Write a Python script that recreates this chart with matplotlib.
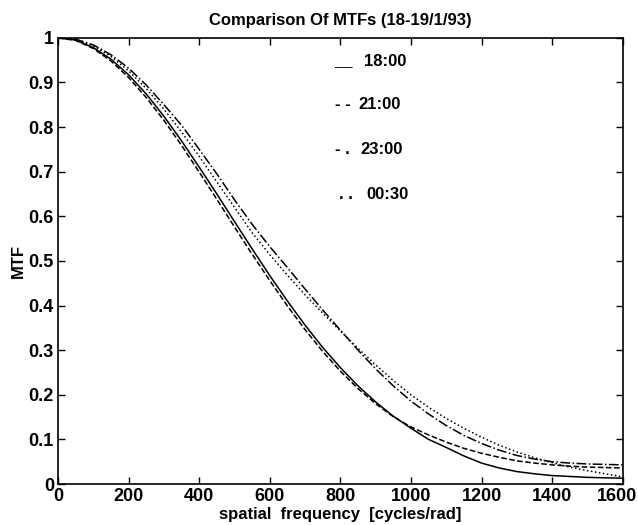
import matplotlib
matplotlib.use("Agg")
import matplotlib.pyplot as plt
from matplotlib.ticker import FixedLocator, FixedFormatter
from matplotlib.transforms import ScaledTranslation

plt.rcParams['font.family'] = ['Liberation Sans', 'DejaVu Sans']

freq = [0, 50, 100, 150, 200, 250, 300, 350, 400, 450, 500, 550, 600, 650, 700, 750, 800,
        850, 900, 950, 1000, 1050, 1100, 1150, 1200, 1250, 1300, 1350, 1400, 1450, 1500, 1550, 1600]

mtf_1800 = [1.000, 0.995, 0.978, 0.952, 0.917, 0.874, 0.824, 0.769, 0.710, 0.650, 0.588, 0.527, 0.467,
            0.410, 0.356, 0.306, 0.261, 0.220, 0.184, 0.152, 0.125, 0.100, 0.082, 0.063, 0.047, 0.036,
            0.028, 0.023, 0.019, 0.017, 0.015, 0.014, 0.013]
mtf_2100 = [1.000, 0.994, 0.976, 0.948, 0.911, 0.866, 0.815, 0.759, 0.699, 0.638, 0.576, 0.515, 0.456,
            0.399, 0.346, 0.297, 0.253, 0.214, 0.180, 0.151, 0.128, 0.110, 0.094, 0.080, 0.069, 0.060,
            0.052, 0.047, 0.043, 0.040, 0.038, 0.037, 0.036]
mtf_2300 = [1.000, 0.997, 0.984, 0.962, 0.932, 0.894, 0.850, 0.804, 0.750, 0.695, 0.637, 0.582, 0.532,
            0.485, 0.437, 0.390, 0.345, 0.300, 0.258, 0.220, 0.186, 0.157, 0.131, 0.109, 0.091, 0.076,
            0.064, 0.056, 0.050, 0.047, 0.045, 0.044, 0.043]
mtf_0030 = [1.000, 0.996, 0.982, 0.958, 0.926, 0.886, 0.840, 0.789, 0.734, 0.677, 0.620, 0.563, 0.514,
            0.468, 0.424, 0.383, 0.343, 0.304, 0.267, 0.232, 0.200, 0.172, 0.147, 0.125, 0.105, 0.087,
            0.072, 0.059, 0.048, 0.038, 0.030, 0.023, 0.016]

series = [("18:00", mtf_1800, '-', "__"),
          ("21:00", mtf_2100, '--', "- -"),
          ("23:00", mtf_2300, '-.', "- ."),
          ("00:30", mtf_0030, ':', ". .")]

xticks = [0, 200, 400, 600, 800, 1000, 1200, 1400, 1600]
xticklabels = ["0", "200", "400", "600", "800", "1000", "1200", "1400", "1600"]
yticks = [0, 0.1, 0.2, 0.3, 0.4, 0.5, 0.6, 0.7, 0.8, 0.9, 1.0]
yticklabels = ["0", "0.1", "0.2", "0.3", "0.4", "0.5", "0.6", "0.7", "0.8", "0.9", "1"]

fig = plt.figure(figsize=(6.38, 5.25), dpi=100)
ax = fig.add_axes([0.091, 0.078, 0.885, 0.85])

for label, vals, ls, sample in series:
    ax.plot(freq, vals, color='black', linestyle=ls, linewidth=1.1)

# MATLAB-style text legend
leg_y = [0.946, 0.85, 0.749, 0.648]
leg_sample_x = [783, 785, 785, 795]
leg_text_x = [866, 850, 858, 875]
for (label, vals, ls, sample), y, sx, tx in zip(series, leg_y, leg_sample_x, leg_text_x):
    ax.text(sx, y, sample, fontsize=12, fontweight='bold', va='center', ha='left')
    ax.text(tx, y, label, fontsize=12, fontweight='bold', va='center', ha='left')

ax.set_xlim(0, 1600)
ax.set_ylim(0, 1)
ax.xaxis.set_major_locator(FixedLocator(xticks))
ax.xaxis.set_major_formatter(FixedFormatter(xticklabels))
ax.yaxis.set_major_locator(FixedLocator(yticks))
ax.yaxis.set_major_formatter(FixedFormatter(yticklabels))
ax.tick_params(direction='in', top=True, right=True, length=5, width=1,
               labelsize=13, pad=3)
for lab in ax.get_xticklabels() + ax.get_yticklabels():
    lab.set_fontweight('bold')
for sp in ax.spines.values():
    sp.set_linewidth(1.2)

ax.set_title("Comparison Of MTFs (18-19/1/93)", fontsize=12, fontweight='bold', pad=9)
ax.set_xlabel("spatial  frequency  [cycles/rad]", fontsize=12, fontweight='bold', labelpad=1)
ax.set_ylabel("MTF", fontsize=12, fontweight='bold', labelpad=2)

fig.canvas.draw()
last = ax.xaxis.get_major_ticks()[-1].label1
last.set_transform(last.get_transform() + ScaledTranslation(-6 / 100, 0, fig.dpi_scale_trans))

fig.savefig("out.png", dpi=100)
